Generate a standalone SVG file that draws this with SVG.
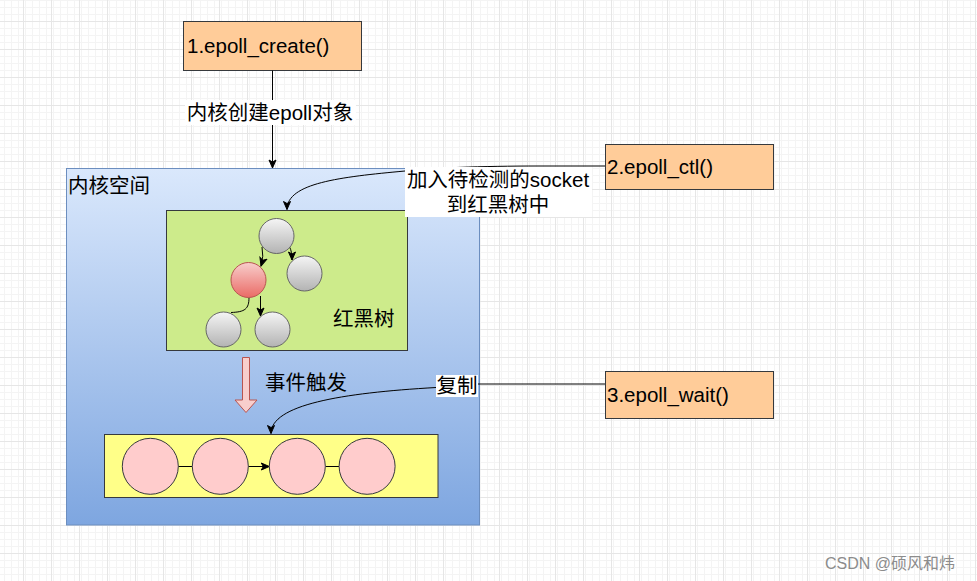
<svg xmlns="http://www.w3.org/2000/svg" width="977" height="581" viewBox="0 0 977 581">
  <defs>
    <pattern id="minor" patternUnits="userSpaceOnUse" x="23" y="21" width="7" height="7">
      <path d="M0.5,0 V7 M0,0.5 H7" stroke="#f4f4f4" stroke-width="1" fill="none"/>
    </pattern>
    <pattern id="major" patternUnits="userSpaceOnUse" x="23" y="21" width="28" height="28">
      <rect width="28" height="28" fill="url(#minor)"/>
      <path d="M0.5,0 V28 M0,0.5 H28" stroke="#e6e6e6" stroke-width="1" fill="none"/>
    </pattern>
    <linearGradient id="kernelGrad" x1="0" y1="0" x2="0" y2="1">
      <stop offset="0" stop-color="#dae8fc"/>
      <stop offset="1" stop-color="#7ea6e0"/>
    </linearGradient>
    <linearGradient id="grayGrad" x1="0" y1="0" x2="0" y2="1">
      <stop offset="0" stop-color="#f5f5f5"/>
      <stop offset="1" stop-color="#b3b3b3"/>
    </linearGradient>
    <linearGradient id="redGrad" x1="0" y1="0" x2="0" y2="1">
      <stop offset="0" stop-color="#f8cecc"/>
      <stop offset="1" stop-color="#ea6b66"/>
    </linearGradient>
    <marker id="arrow" markerUnits="userSpaceOnUse" markerWidth="10" markerHeight="10" viewBox="0 0 10 10" refX="9" refY="5" orient="auto">
      <path d="M1,1.5 L9,5 L1,8.5 L3,5 Z" fill="#000" stroke="#000" stroke-width="1"/>
    </marker>
    <style>
      text { font-family: "Liberation Sans", "Noto Sans CJK SC", sans-serif; font-size: 20.5px; fill: #000; }
      .box { fill: #ffcc99; stroke: #36393d; stroke-width: 1; }
      .conn { fill: none; stroke: #000; stroke-width: 1; }
      .gnode { fill: url(#grayGrad); stroke: #666666; stroke-width: 1; }
      .rnode { fill: url(#redGrad); stroke: #b85450; stroke-width: 1; }
      .pnode { fill: #ffcccc; stroke: #36393d; stroke-width: 1; }
      .lblbg { fill: #ffffff; }
    </style>
  </defs>

  <rect x="0" y="0" width="977" height="581" fill="#ffffff"/>
  <rect x="0" y="0" width="977" height="581" fill="url(#major)"/>

  <g id="kernel-space">
    <rect x="66.5" y="168.5" width="413" height="356.5" fill="url(#kernelGrad)" stroke="#6c8ebf" stroke-width="1"/>
    <text x="68" y="193">内核空间</text>
  </g>

  <g id="rb-tree-box">
    <rect x="166.5" y="210.5" width="241" height="140" fill="#cdeb8b" stroke="#36393d" stroke-width="1"/>
    <text x="333" y="326">红黑树</text>
  </g>

  <g id="tree-edges">
    <path class="conn" d="M262,247 Q264,256 261,266" marker-end="url(#arrow)"/>
    <path class="conn" d="M289.5,247 Q292,251 292,260" marker-end="url(#arrow)"/>
    <path class="conn" d="M260.5,296 L260.5,316" marker-end="url(#arrow)"/>
    <path class="conn" d="M249,297.5 C249,309 245,312 231,312.5"/>
  </g>

  <g id="tree-root"><circle class="gnode" cx="276.5" cy="236" r="17.5"/></g>
  <g id="tree-right"><circle class="gnode" cx="304.5" cy="273.5" r="17.5"/></g>
  <g id="tree-red"><circle class="rnode" cx="248.5" cy="280" r="17.5"/></g>
  <g id="tree-bl"><circle class="gnode" cx="223.5" cy="329.5" r="17.5"/></g>
  <g id="tree-br"><circle class="gnode" cx="272.5" cy="329.5" r="17.5"/></g>

  <g id="event-arrow">
    <path d="M242.5,357.5 L249.5,357.5 L249.5,400 L257,400 L246,412.5 L235,400 L242.5,400 Z" fill="#f8cecc" stroke="#b85450" stroke-width="1"/>
    <text x="265" y="390">事件触发</text>
  </g>

  <g id="ready-list">
    <rect x="104.5" y="434.5" width="333.5" height="63" fill="#ffff88" stroke="#36393d" stroke-width="1"/>
  </g>
  <g id="ready-edges">
    <path class="conn" d="M178.3,466.5 H192.3"/>
    <path class="conn" d="M248.3,466.5 H269.3" marker-end="url(#arrow)"/>
    <path class="conn" d="M325.5,466.5 H339"/>
  </g>
  <g id="ready-1"><circle class="pnode" cx="150.3" cy="466.3" r="28"/></g>
  <g id="ready-2"><circle class="pnode" cx="220.3" cy="466.3" r="28"/></g>
  <g id="ready-3"><circle class="pnode" cx="297.3" cy="466.3" r="28"/></g>
  <g id="ready-4"><circle class="pnode" cx="367.1" cy="466.3" r="28"/></g>

  <g id="epoll-create">
    <rect class="box" x="183.5" y="21.5" width="178" height="49"/>
    <text x="187" y="53">1.epoll_create()</text>
  </g>
  <g id="epoll-ctl">
    <rect class="box" x="605.5" y="144.5" width="168" height="45"/>
    <text x="607" y="174">2.epoll_ctl()</text>
  </g>
  <g id="epoll-wait">
    <rect class="box" x="605.5" y="371.5" width="168" height="47"/>
    <text x="607" y="402">3.epoll_wait()</text>
  </g>

  <g id="connectors">
    <path class="conn" d="M272.5,70.5 L272.5,168" marker-end="url(#arrow)"/>
    <rect class="lblbg" x="185" y="100" width="171" height="25"/>
    <text x="270" y="120" text-anchor="middle">内核创建epoll对象</text>

    <path class="conn" d="M605,166 L540,166 C480,166 430,168 405,171 C340,177 287,183 287,209.5" marker-end="url(#arrow)"/>
    <rect class="lblbg" x="405" y="167" width="187" height="50"/>
    <text x="498" y="187" text-anchor="middle">加入待检测的socket</text>
    <text x="498" y="212" text-anchor="middle">到红黑树中</text>

    <path class="conn" d="M605,384 L478,384 L436,387.5 C340,393 271,405 271,433.5" marker-end="url(#arrow)"/>
    <rect class="lblbg" x="436" y="375" width="42" height="22"/>
    <text x="457" y="393" text-anchor="middle">复制</text>
  </g>

  <text x="825" y="569" style="font-size:16px; fill:#8c8c8c;">CSDN @硕风和炜</text>
</svg>
